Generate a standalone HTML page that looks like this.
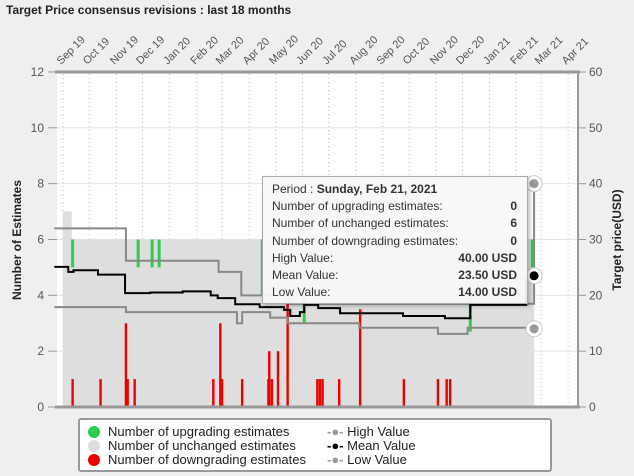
<!DOCTYPE html>
<html><head><meta charset="utf-8"><style>
body{margin:0;background:#efefef;font-family:"Liberation Sans",Arial,sans-serif;}
#wrap{position:relative;width:634px;height:476px;overflow:hidden;background:#efefef;}
svg text{font-family:"Liberation Sans",Arial,sans-serif;}
</style></head><body>
<div id="wrap">
<svg id="c" width="634" height="476" viewBox="0 0 634 476" xmlns="http://www.w3.org/2000/svg">
<text x="6" y="14" font-size="12" font-weight="bold" fill="#222">Target Price consensus revisions : last 18 months</text>
<rect x="57" y="72" width="521" height="335" fill="#fff"/>
<g id="grid"></g><g id="bars"></g><g id="lines"></g><g id="axes"></g>
<text transform="translate(21,240) rotate(-90)" text-anchor="middle" font-size="12" font-weight="bold" fill="#222">Number of Estimates</text>
<text transform="translate(621,240) rotate(-90)" text-anchor="middle" font-size="12" font-weight="bold" fill="#222">Target price(USD)</text>
</svg>
<div style="position:absolute;left:262px;top:176px;width:266px;height:128px;background:rgba(247,247,247,0.93);border:1px solid #aaa;box-shadow:2px 2px 4px rgba(0,0,0,0.25);font-size:12px;color:#333;line-height:17.2px;padding:4px 0 0 9px;box-sizing:border-box;">
<div>Period : <b>Sunday, Feb 21, 2021</b></div>
<div style="display:flex;justify-content:space-between;padding-right:10px"><span>Number of upgrading estimates:</span><b>0</b></div>
<div style="display:flex;justify-content:space-between;padding-right:10px"><span>Number of unchanged estimates:</span><b>6</b></div>
<div style="display:flex;justify-content:space-between;padding-right:10px"><span>Number of downgrading estimates:</span><b>0</b></div>
<div style="display:flex;justify-content:space-between;padding-right:10px"><span>High Value:</span><b>40.00 USD</b></div>
<div style="display:flex;justify-content:space-between;padding-right:10px"><span>Mean Value:</span><b>23.50 USD</b></div>
<div style="display:flex;justify-content:space-between;padding-right:10px"><span>Low Value:</span><b>14.00 USD</b></div>
</div>
<div style="position:absolute;left:78px;top:418px;width:474px;height:54px;background:#fff;border:2px solid #999;border-radius:3px;box-sizing:border-box;font-size:13px;color:#222;line-height:14px;">
<div style="position:absolute;left:8px;top:5px">
<div><span style="display:inline-block;width:12px;height:12px;border-radius:6px;background:#2ecc52;vertical-align:-2px;margin-right:8px"></span>Number of upgrading estimates</div>
<div><span style="display:inline-block;width:12px;height:12px;border-radius:6px;background:#ddd;vertical-align:-2px;margin-right:8px"></span>Number of unchanged estimates</div>
<div><span style="display:inline-block;width:12px;height:12px;border-radius:6px;background:#e00;vertical-align:-2px;margin-right:8px"></span>Number of downgrading estimates</div>
</div>
<div style="position:absolute;left:247px;top:5px">
<div><span style="color:#999;font-weight:bold">-●-</span> High Value</div>
<div><span style="color:#000;font-weight:bold">-●-</span> Mean Value</div>
<div><span style="color:#999;font-weight:bold">-●-</span> Low Value</div>
</div>
</div>
</div>
<script>
// days since Sep 1 2019
const monthLabels=["Sep 19","Oct 19","Nov 19","Dec 19","Jan 20","Feb 20","Mar 20","Apr 20","May 20","Jun 20","Jul 20","Aug 20","Sep 20","Oct 20","Nov 20","Dec 20","Jan 21","Feb 21","Mar 21","Apr 21"];
const monthDays=[0,30,61,91,122,153,182,213,243,274,304,335,366,396,427,457,488,519,547,578];
const leftTicks=[0,2,4,6,8,10,12];
const rightTicks=[0,10,20,30,40,50,60];
const highSeries=[[-10,32],[72,26.2],[178,24.2],[204,20],[260,18.5],[537,18.5],[539,40]];
const meanSeries=[[-10,25.1],[6,24.2],[12,24.5],[40,23.7],[71,20.4],[100,20.5],[137,20.7],[169,20],[177,19.5],[197,18.4],[225,17.9],[253,17.4],[260,16.3],[271,17],[276,18.3],[292,17.7],[317,16.8],[389,16.3],[437,15.9],[466,18.3],[530,23.5],[539,23.5]];
const lowSeries=[[-10,17.9],[72,17],[199,15],[205,17],[237,16],[257,15],[339,14.2],[429,13.1],[463,14.2],[539,14]];
const unchangedSeries=[[0,7],[10,6],[539,6]];
const upDays=[11,86,102,110,228,276,466,537];
const upFrom=[5,5,5,5,4,3,2.7,5];
const upTo=[6,6,6,6,6,4,4,6];
const downDays=[11,43,72,74,82,172,180,182,205,235,236,239,246,257,291,294,297,316,340,390,429,439,443];
const downVals=[1,1,3,1,1,1,3,1,1,1,2,1,2,3.8,1,1,1,1,3.5,1,1,1,1];
const NS="http://www.w3.org/2000/svg";
const X=d=>63+d*0.874, YL=v=>407-v*27.92, YR=v=>407-v*5.583;
function mk(p,t,a){const e=document.createElementNS(NS,t);for(const k in a)e.setAttribute(k,a[k]);document.getElementById(p).appendChild(e);return e;}
monthDays.forEach((d,i)=>{
 const g=mk('grid','line',{x1:X(d),x2:X(d),y1:74,y2:405,stroke:'#bbb','stroke-dasharray':'1,3'});
 
 
 const t=mk('axes','text',{x:0,y:0,'font-size':11,fill:'#555','text-anchor':'start',transform:`translate(${X(d)-2},65) rotate(-45)`});
 t.textContent=monthLabels[i];
 
 
});
leftTicks.forEach(v=>{
 const g=mk('grid','line',{x1:57,x2:578,y1:YL(v),y2:YL(v),stroke:'#e4e4e4'});
 
 
 mk('axes','line',{x1:48,x2:57,y1:YL(v),y2:YL(v),stroke:'#999'});
 const t=mk('axes','text',{x:44,y:YL(v)+4,'font-size':12,fill:'#555','text-anchor':'end'});t.textContent=v;
 
 
});
rightTicks.forEach(v=>{
 mk('axes','line',{x1:578,x2:586,y1:YR(v),y2:YR(v),stroke:'#999'});
 const t=mk('axes','text',{x:589,y:YR(v)+4,'font-size':12,fill:'#555'});t.textContent=v;
 
 
});
mk('axes','line',{x1:55,x2:580,y1:72,y2:72,stroke:'#999','stroke-width':3});
mk('axes','line',{x1:55,x2:580,y1:407,y2:407,stroke:'#999','stroke-width':3});
mk('axes','line',{x1:578,x2:578,y1:72,y2:407,stroke:'#999','stroke-width':2});
let p=`M${X(unchangedSeries[0][0])},${YL(0)}`;
unchangedSeries.forEach((s,i)=>{p+=` L${X(s[0])},${YL(i?unchangedSeries[i-1][1]:s[1])} L${X(s[0])},${YL(s[1])}`;});
p+=` L${X(unchangedSeries[unchangedSeries.length-1][0])},${YL(0)} Z`;
const ar=mk('bars','path',{d:p,fill:'#dedede'});


upDays.forEach((d,i)=>{const r=mk('bars','rect',{x:X(d)-1.5,width:3,y:YL(upTo[i]),height:YL(upFrom[i])-YL(upTo[i]),fill:'#2ecc52'});
 
 });
downDays.forEach((d,i)=>{const r=mk('bars','rect',{x:X(d)-1.2,width:2.4,y:YL(downVals[i]),height:YL(0)-YL(downVals[i]),fill:'#e00'});
 
 });
function step(s){let q=`M${X(s[0][0])},${YR(s[0][1])}`;for(let i=1;i<s.length;i++){q+=` L${X(s[i][0])},${YR(s[i-1][1])} L${X(s[i][0])},${YR(s[i][1])}`;}return q;}
const hl=mk('lines','path',{d:step(highSeries),fill:'none',stroke:'#888','stroke-width':2});


const ll=mk('lines','path',{d:step(lowSeries),fill:'none',stroke:'#888','stroke-width':2});


const ml=mk('lines','path',{d:step(meanSeries),fill:'none',stroke:'#000','stroke-width':2});


[[highSeries,'#999','high-marker'],[meanSeries,'#000','mean-marker'],[lowSeries,'#999','low-marker']].forEach(([s,c,n])=>{
 const l=s[s.length-1];
 const m=mk('lines','circle',{cx:X(l[0]),cy:YR(l[1]),r:6,fill:c,stroke:'#fff','stroke-width':3});
 
 
 mk('lines','circle',{cx:X(l[0]),cy:YR(l[1]),r:8,fill:'none',stroke:'#ccc','stroke-width':1});
});
</script>
</body></html>
